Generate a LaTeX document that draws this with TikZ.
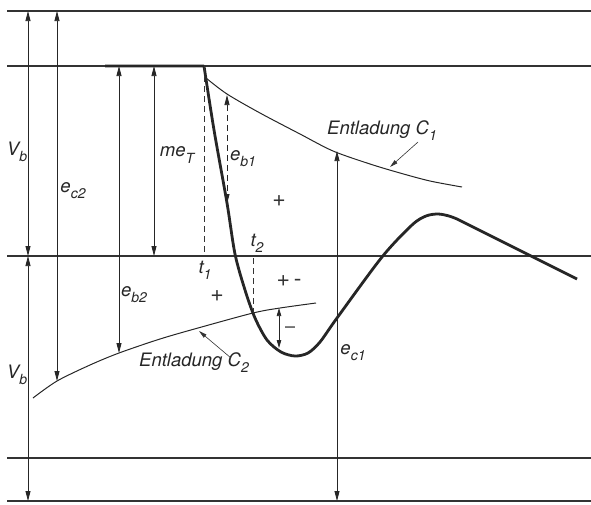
\documentclass[tikz,border=0pt]{standalone}
\usepackage{fontspec}
\setmainfont{TeX Gyre Heros}
\usetikzlibrary{arrows.meta}
\newcommand{\sbx}[1]{\raisebox{-0.33em}{\fontsize{14}{14}\selectfont #1}}
\tikzset{
  hline/.style={line width=1.3pt, draw=black!80},
  dim/.style={line width=0.75pt, draw=black!85, {Triangle[length=10pt,width=5pt]}-{Triangle[length=10pt,width=5pt]}},
  curve/.style={line width=1pt, draw=black!85},
  thickc/.style={line width=2.8pt, draw=black!85, line join=round},
  dsh/.style={line width=0.8pt, draw=black!80, dash pattern=on 6pt off 4pt},
  leader/.style={line width=0.6pt, draw=black!80, -{Triangle[length=8pt,width=4pt]}},
  lbl/.style={font=\fontsize{18.5}{18.5}\selectfont\itshape, inner sep=0pt, text=black!85},
  sgn/.style={font=\fontsize{23}{23}\selectfont, inner sep=0pt, text=black!80},
}
\begin{document}
\begin{tikzpicture}[x=1pt,y=-1pt]
\useasboundingbox (0,0) rectangle (591,504);
% horizontal lines
\coordinate (h1l) at (7,11);  \coordinate (h1r) at (591,11);
\coordinate (h2l) at (7,66);  \coordinate (h2r) at (591,66);
\coordinate (h3l) at (7,256); \coordinate (h3r) at (591,256);
\coordinate (h4l) at (7,458); \coordinate (h4r) at (591,458);
\coordinate (h5l) at (7,501); \coordinate (h5r) at (591,501);
\draw[hline] (h1l) -- (h1r);
\draw[hline] (h2l) -- (h2r);
\draw[hline] (h3l) -- (h3r);
\draw[hline] (h4l) -- (h4r);
\draw[hline] (h5l) -- (h5r);

% discharge curves
\draw[curve] plot[smooth] coordinates {(206,78) (227,94) (260,113) (300,134) (333,151) (370,164) (400,173) (430,181) (462,187)};
\draw[curve] plot[smooth] coordinates {(33,398) (57,381) (90,365) (119,353) (160,339) (198,328) (253,313) (280,308) (316,303)};

% main thick curve
\draw[thickc] (105,66) -- (204,66)
  plot[smooth, tension=0.5] coordinates {(204,66) (214,130) (227,203) (235,254) (245,290) (255,318) (267,340) (281,352) (295,356) (308,353) (320,342) (337,318) (382,257) (412,225) (426,216) (438,214) (449,216) (457,219)}
  -- (577,279);

% dashed lines
\coordinate (t1a) at (204,66); \coordinate (t1b) at (204,256);
\draw[dsh] (t1a) -- (t1b);
\coordinate (t2a) at (253,258); \coordinate (t2b) at (253,313);
\draw[dsh] (t2a) -- (t2b);

% dimension arrows
\coordinate (vb1a) at (28,11);  \coordinate (vb1b) at (28,256);
\coordinate (vb2a) at (28,256); \coordinate (vb2b) at (28,501);
\coordinate (ec2a) at (57,11);  \coordinate (ec2b) at (57,381);
\coordinate (eb2a) at (119,66); \coordinate (eb2b) at (119,353);
\coordinate (meta) at (154,66); \coordinate (metb) at (154,256);
\coordinate (eb1a) at (227,95); \coordinate (eb1b) at (227,204);
\coordinate (ec1a) at (337,151); \coordinate (ec1b) at (337,501);
\coordinate (ma) at (279,308); \coordinate (mb) at (279,348);
\draw[dim] (vb1a) -- (vb1b);
\draw[dim] (vb2a) -- (vb2b);
\draw[dim] (ec2a) -- (ec2b);
\draw[dim] (eb2a) -- (eb2b);
\draw[dim] (meta) -- (metb);
\draw[dim, dash pattern=on 6pt off 4pt] (eb1a) -- (eb1b);
\draw[dim] (ec1a) -- (ec1b);
\draw[line width=0.75pt, draw=black!85, {Triangle[length=8pt,width=4.5pt]}-{Triangle[length=8pt,width=4.5pt]}] (ma) -- (mb);

% labels
\node[lbl] (lvb1) at (17,152) {V\sbx{b}};
\node[lbl] (lvb2) at (17,375) {V\sbx{b}};
\node[lbl] (lec2) at (73,191) {e\sbx{c2}};
\node[lbl] (lmet) at (177,155) {me\sbx{T}};
\node[lbl] (leb1) at (243,159) {e\sbx{b1}};
\node[lbl] (leb2) at (134,295) {e\sbx{b2}};
\node[lbl] (lec1) at (353,353) {e\sbx{c1}};
\node[lbl] (lt1) at (205,270) {t\sbx{1}};
\node[lbl] (lt2) at (257,243) {t\sbx{2}};
\node[lbl, anchor=west] (lC1) at (327,131) {Entladung C\sbx{1}};
\node[lbl, anchor=west] (lC2) at (139,363) {Entladung C\sbx{2}};
\node[sgn] (p1) at (279,201) {+};
\node[sgn] (p2) at (217,296) {+};
\node[sgn] (p3) at (289,281) {+\,-};
\node[sgn, font=\fontsize{18}{18}\selectfont] (p4) at (290,330) {–};

% leaders
\coordinate (ld1) at (418,142); \coordinate (ld1t) at (390,167);
\draw[leader] (ld1) -- (ld1t);
\coordinate (ld2) at (231,358); \coordinate (ld2t) at (199,331);
\draw[leader] (ld2) -- (ld2t);
\end{tikzpicture}
\end{document}
